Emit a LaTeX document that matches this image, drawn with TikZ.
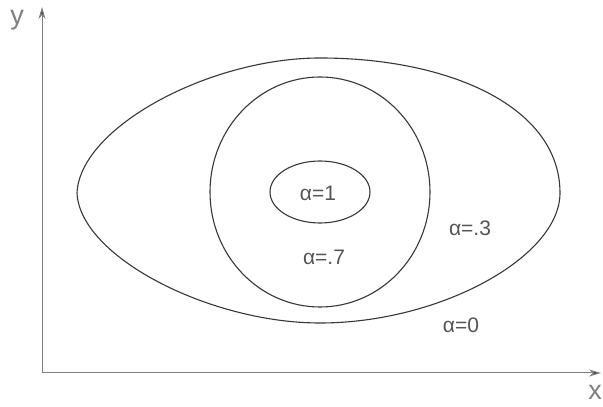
\documentclass[tikz,border=0pt]{standalone}
\usepackage{fontspec}
\setmainfont{Liberation Sans}
\usetikzlibrary{arrows.meta}
\definecolor{inkline}{RGB}{55,55,55}
\definecolor{inktext}{RGB}{85,85,85}

\begin{document}
\begin{tikzpicture}[x=1pt, y=1pt,
  ax/.style={draw=gray, line width=1pt,
    -{Stealth[length=12pt, width=7pt, fill=inkline]}},
  lvl/.style={draw=inkline, line width=1.1pt},
  lab/.style={text=inktext, font=\fontsize{21}{23}\selectfont,
    inner sep=0pt},
  axlab/.style={text=gray, font=\fontsize{27}{29}\selectfont,
    inner sep=0pt},
]
\useasboundingbox (0,0) rectangle (603,407);
% axes
\coordinate (O) at (42,34);
\coordinate (ytop) at (42,400);
\coordinate (xend) at (601,34);
\draw[ax] (O) -- (ytop);
\draw[ax] (O) -- (xend);
\node[axlab] (ylab) at (17,387) {y};
\node[axlab] (xlab) at (595,15) {x};
% level sets
\draw[lvl] (77,214) .. controls (80,280) and (210,349) .. (320,349)
  .. controls (450,349) and (560,300) .. (560,214)
  .. controls (560,150) and (440,84) .. (320,84)
  .. controls (210,84) and (80,150) .. cycle;
\draw[lvl] (320,215) ellipse [x radius=110, y radius=115];
\draw[lvl] (320,215) ellipse [x radius=50, y radius=31];
% labels
\node[lab] (a1) at (318,214) {α=1};
\node[lab] (a7) at (324,150) {α=.7};
\node[lab] (a3) at (470,179) {α=.3};
\node[lab] (a0) at (461,82) {α=0};
\end{tikzpicture}
\end{document}
